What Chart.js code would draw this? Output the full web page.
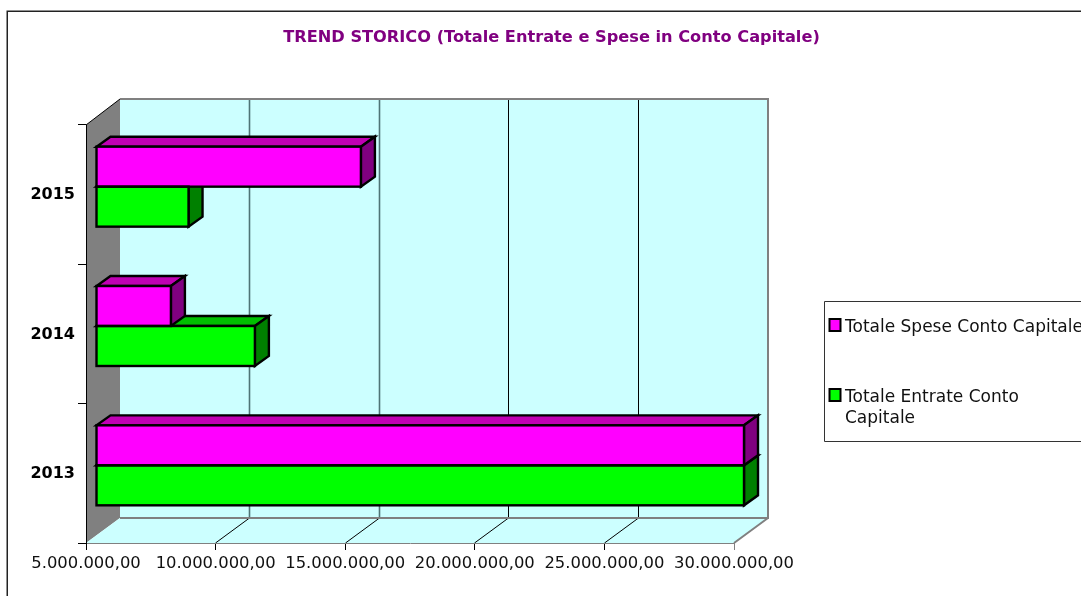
<!DOCTYPE html>
<html>
<head>
<meta charset="utf-8">
<style>
html,body{margin:0;padding:0;background:#fff;overflow:hidden}
#w{width:1081px;height:596px;position:relative}
</style>
<script src="https://cdn.jsdelivr.net/npm/chart.js@4/dist/chart.umd.min.js"></script>
</head>
<body>
<div id="w"><canvas id="c" width="1081" height="596"></canvas></div>
<script>
const chartTitle = 'TREND STORICO (Totale Entrate e Spese in Conto Capitale)';
const categories = ['2013', '2014', '2015'];
const spese = [30000000, 7890000, 15220000];
const entrate = [30000000, 11130000, 8570000];
const speseLabel = 'Totale Spese Conto Capitale';
const entrateLabel = 'Totale Entrate Conto Capitale';
const axisMin = 5000000, axisMax = 30000000, axisStep = 5000000;

const FONT = '"DejaVu Sans", Verdana, sans-serif';
const WALL = {dx: 34, dy: -25};
const BAR_SHIFT = {dx: 10, dy: -8};
const BAR_DEPTH = {dx: 14, dy: -10};
const BAR_LINE = 2.4;

function poly(ctx, pts, fill, stroke, lw) {
  ctx.beginPath();
  pts.forEach((p, i) => i ? ctx.lineTo(p[0], p[1]) : ctx.moveTo(p[0], p[1]));
  ctx.closePath();
  if (fill) { ctx.fillStyle = fill; ctx.fill(); }
  if (stroke) { ctx.strokeStyle = stroke; ctx.lineWidth = lw || 1; ctx.stroke(); }
}
function fmt(v) {
  return Number(v).toLocaleString('it-IT', {minimumFractionDigits: 2, maximumFractionDigits: 2, useGrouping: 'always'});
}

const scene = {
  id: 'scene',
  afterLayout(chart) { chart.titleBlock.left = 22; chart.titleBlock.right = 1081; },
  beforeDraw(chart) {
    const ctx = chart.ctx, a = chart.chartArea, xs = chart.scales.x;
    const dx = WALL.dx, dy = WALL.dy;
    ctx.save();
    // outer frame
    ctx.strokeStyle = '#222'; ctx.lineWidth = 1.5;
    ctx.beginPath(); ctx.moveTo(7.25, 596); ctx.lineTo(7.25, 11.25); ctx.lineTo(1081, 11.25); ctx.stroke();
    // left wall
    poly(ctx, [[a.left, a.top], [a.left + dx, a.top + dy - 1], [a.left + dx, a.bottom + dy], [a.left, a.bottom]], '#808080');
    ctx.strokeStyle = '#000'; ctx.lineWidth = 1;
    ctx.beginPath(); ctx.moveTo(a.left, a.top); ctx.lineTo(a.left + dx, a.top + dy - 1); ctx.stroke();
    // back wall
    poly(ctx, [[a.left + dx, a.top + dy - 1], [a.right + dx, a.top + dy - 1], [a.right + dx, a.bottom + dy], [a.left + dx, a.bottom + dy]], '#CCFFFF');
    // floor
    poly(ctx, [[a.left, a.bottom], [a.left + dx, a.bottom + dy], [a.right + dx, a.bottom + dy], [a.right, a.bottom]], '#CCFFFF');
    // grid lines on floor and back wall
    xs.ticks.forEach((t, i) => {
      if (t.value <= axisMin || t.value >= axisMax) return;
      const x = Math.floor(xs.getPixelForValue(t.value) + dx) - dx;
      ctx.strokeStyle = '#000'; ctx.lineWidth = 1;
      ctx.beginPath();
      ctx.moveTo(x + 0.5, a.bottom);
      ctx.lineTo(x + dx + 0.5, a.bottom + dy);
      ctx.stroke();
      ctx.strokeStyle = i <= 2 ? '#4f7476' : '#000'; ctx.lineWidth = i <= 2 ? 1.6 : 1;
      ctx.beginPath();
      ctx.moveTo(x + dx + 0.5, a.bottom + dy);
      ctx.lineTo(x + dx + 0.5, a.top + dy - 1);
      ctx.stroke();
    });
    // grey wall edges
    ctx.strokeStyle = '#808080'; ctx.lineWidth = 2;
    ctx.beginPath();
    ctx.moveTo(a.left + dx, a.top + dy - 1);
    ctx.lineTo(a.right + dx, a.top + dy - 1);
    ctx.lineTo(a.right + dx, a.bottom + dy);
    ctx.lineTo(a.left + dx, a.bottom + dy);
    ctx.moveTo(a.right + dx, a.bottom + dy);
    ctx.lineTo(a.right, a.bottom);
    ctx.stroke();
    ctx.restore();
  },
  beforeDatasetsDraw(chart) {
    const ctx = chart.ctx;
    ctx.save();
    ctx.translate(BAR_SHIFT.dx, BAR_SHIFT.dy);
    // depth faces, datasets back to front
    const dx = BAR_DEPTH.dx, dy = BAR_DEPTH.dy;
    [1, 0].forEach(d => {
      const ds = chart.data.datasets[d];
      chart.getDatasetMeta(d).data.forEach(el => {
        const p = el.getProps(['x', 'y', 'base', 'height'], true);
        const t = p.y - p.height / 2, b = p.y + p.height / 2;
        poly(ctx, [[p.base, t], [p.x, t], [p.x + dx, t + dy], [p.base + dx, t + dy]], ds.topColor, '#000', BAR_LINE);
        poly(ctx, [[p.x, t], [p.x + dx, t + dy], [p.x + dx, b + dy], [p.x, b]], ds.sideColor, '#000', BAR_LINE);
      });
    });
  },
  afterDatasetsDraw(chart) {
    const ctx = chart.ctx;
    // front-face outlines, centred on the bar edges
    [1, 0].forEach(d => {
      chart.getDatasetMeta(d).data.forEach(el => {
        const p = el.getProps(['x', 'y', 'base', 'height'], true);
        ctx.strokeStyle = '#000'; ctx.lineWidth = BAR_LINE;
        ctx.strokeRect(p.base, p.y - p.height / 2, p.x - p.base, p.height);
      });
    });
    ctx.restore();
  },
  afterDraw(chart) {
    const ctx = chart.ctx;
    ctx.save();
    // legend box
    ctx.strokeStyle = '#333'; ctx.lineWidth = 1;
    ctx.beginPath();
    ctx.moveTo(1081, 301.5); ctx.lineTo(824.5, 301.5); ctx.lineTo(824.5, 441.5); ctx.lineTo(1081, 441.5);
    ctx.stroke();
    ctx.font = '17px ' + FONT; ctx.textBaseline = 'alphabetic'; ctx.textAlign = 'left';
    const rows = [
      {ds: 0, box: 319, lines: [{t: speseLabel, y: 332}]},
      {ds: 1, box: 389, lines: [{t: entrateLabel.replace(/ Capitale$/, ''), y: 402}, {t: 'Capitale', y: 423}]}
    ];
    rows.forEach(r => {
      const ds = chart.data.datasets[r.ds];
      ctx.fillStyle = ds.backgroundColor; ctx.strokeStyle = '#000'; ctx.lineWidth = 2;
      ctx.fillRect(829.5, r.box, 11, 12); ctx.strokeRect(829.5, r.box, 11, 12);
      ctx.fillStyle = '#111';
      r.lines.forEach(l => ctx.fillText(l.t, 845, l.y));
    });
    ctx.restore();
  }
};

new Chart(document.getElementById('c'), {
  type: 'bar',
  data: {
    labels: categories,
    datasets: [
      {label: speseLabel, data: spese, base: axisMin, backgroundColor: '#FF00FF', topColor: '#C000B4', sideColor: '#800080',
       borderWidth: 0, clip: false},
      {label: entrateLabel, data: entrate, base: axisMin, backgroundColor: '#00FF00', topColor: '#00C000', sideColor: '#008000',
       borderWidth: 0, clip: false}
    ]
  },
  plugins: [scene],
  options: {
    indexAxis: 'y',
    responsive: false,
    animation: false,
    events: [],
    categoryPercentage: 0.574,
    barPercentage: 1,
    layout: {padding: {left: 0, right: 347, top: 0, bottom: 0}},
    plugins: {
      legend: {display: false},
      tooltip: {enabled: false},
      title: {
        display: true, text: chartTitle, color: '#800080',
        font: {family: FONT, size: 16.2, weight: 'bold', lineHeight: 1.2},
        padding: {top: 28, bottom: 77.56}
      }
    },
    scales: {
      x: {
        type: 'linear', min: axisMin, max: axisMax,
        ticks: {stepSize: axisStep, color: '#111', padding: 4, maxRotation: 0, autoSkip: false,
                font: {family: FONT, size: 16.4}, callback: v => fmt(v)},
        grid: {drawOnChartArea: false, drawTicks: true, tickLength: 7,
               tickColor: c => c.index === 5 ? '#808080' : '#000'},
        border: {color: '#808080', width: 1},
        afterFit(s) { s.height = 53; }
      },
      y: {
        reverse: true,
        ticks: {color: '#000', padding: 3, labelOffset: 0.5, font: {family: FONT, size: 16, weight: 'bold'}},
        grid: {drawOnChartArea: false, drawTicks: true, tickLength: 8,
               tickColor: c => c.index === 3 ? '#808080' : '#000'},
        border: {color: '#000', width: 1},
        afterFit(s) { s.width = 86; }
      }
    }
  }
});
</script>
</body>
</html>
